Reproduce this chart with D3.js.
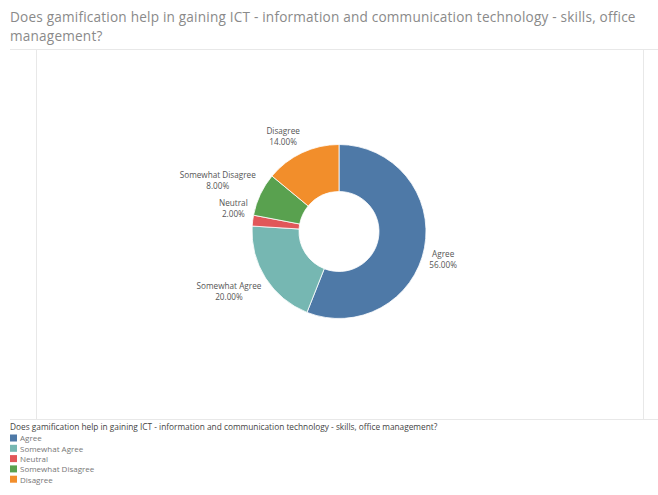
<!DOCTYPE html>
<html>
<head>
<meta charset="utf-8">
<script src="https://cdn.jsdelivr.net/npm/d3@7"></script>
<style>
  html, body { margin: 0; padding: 0; background: #fff; }
  svg { display: block; font-family: "Open Sans", "Noto Sans", sans-serif; }
</style>
</head>
<body>
<svg id="chart" width="658" height="495"></svg>
<script>
// Survey answers and their shares (percent)
const categories = ["Agree", "Somewhat Agree", "Neutral", "Somewhat Disagree", "Disagree"];
const shares = [56, 20, 2, 8, 14];
const colors = ["#4e79a7", "#76b7b2", "#e15759", "#59a14f", "#f28e2b"];
const titleLines = [
  "Does gamification help in gaining ICT - information and communication technology - skills, office",
  "management?"
];
const legendTitle = "Does gamification help in gaining ICT - information and communication technology - skills, office management?";

const svg = d3.select("#chart");
const W = 658, H = 495;

// Title
svg.append("g").selectAll("text").data(titleLines).join("text")
  .attr("x", 10).attr("y", (d, i) => 22 + i * 19)
  .attr("font-size", 13.6).attr("letter-spacing", 0.2).attr("fill", "#8a8a8a")
  .text(d => d);

// Pane frame lines
const frame = svg.append("g").attr("stroke", "#e8e8e8").attr("stroke-width", 1).attr("fill", "none");
frame.append("line").attr("x1", 10).attr("x2", W).attr("y1", 49.5).attr("y2", 49.5);
frame.append("line").attr("x1", 10).attr("x2", W).attr("y1", 419.5).attr("y2", 419.5);
frame.append("line").attr("x1", 36.5).attr("x2", 36.5).attr("y1", 49.5).attr("y2", 419.5);
frame.append("line").attr("x1", 643.5).attr("x2", 643.5).attr("y1", 49.5).attr("y2", 419.5);

// Donut
const cx = 339, cy = 231.5, outerR = 87, innerR = 40;
const data = categories.map((c, i) => ({ cat: c, value: shares[i], color: colors[i] }));
const pie = d3.pie().value(d => d.value).sort(null);
const arcs = pie(data);
const arc = d3.arc().innerRadius(innerR).outerRadius(outerR);

const g = svg.append("g").attr("transform", `translate(${cx},${cy})`);
g.selectAll("path").data(arcs).join("path")
  .attr("d", arc)
  .attr("fill", d => d.data.color)
  .attr("stroke", "#fff").attr("stroke-width", 0.8);

// Slice labels: two centred lines, block corner anchored at a point just outside the arc
const labelR = 92, fs = 8.2, lh = 11;
arcs.forEach(a => {
  const mid = (a.startAngle + a.endAngle) / 2;
  const px = labelR * Math.sin(mid), py = -labelR * Math.cos(mid);
  const lines = [a.data.cat, d3.format(".2f")(a.data.value) + "%"];
  const lg = g.append("g");
  const texts = lg.selectAll("text").data(lines).join("text")
    .attr("font-size", fs).attr("fill", "#555").attr("text-anchor", "middle")
    .text(d => d);
  const w = d3.max(texts.nodes(), n => n.getComputedTextLength());
  const bx = px >= 0 ? px + w / 2 : px - w / 2;
  const top = py <= 0 ? py - 2 * lh : py;
  texts.attr("x", bx).attr("y", (d, i) => top + 8 + i * lh);
});

// Legend
const legend = svg.append("g").attr("transform", "translate(10,0)");
legend.append("text").attr("x", 0).attr("y", 430)
  .attr("font-size", 8.3).attr("fill", "#444").text(legendTitle);
const items = legend.selectAll("g.item").data(data).join("g")
  .attr("class", "item")
  .attr("transform", (d, i) => `translate(0,${434.5 + i * 10.3})`);
items.append("rect").attr("width", 7).attr("height", 7).attr("fill", d => d.color);
items.append("text").attr("x", 10).attr("y", 6.8)
  .attr("font-size", 8).attr("fill", "#777").text(d => d.cat);
</script>
</body>
</html>
